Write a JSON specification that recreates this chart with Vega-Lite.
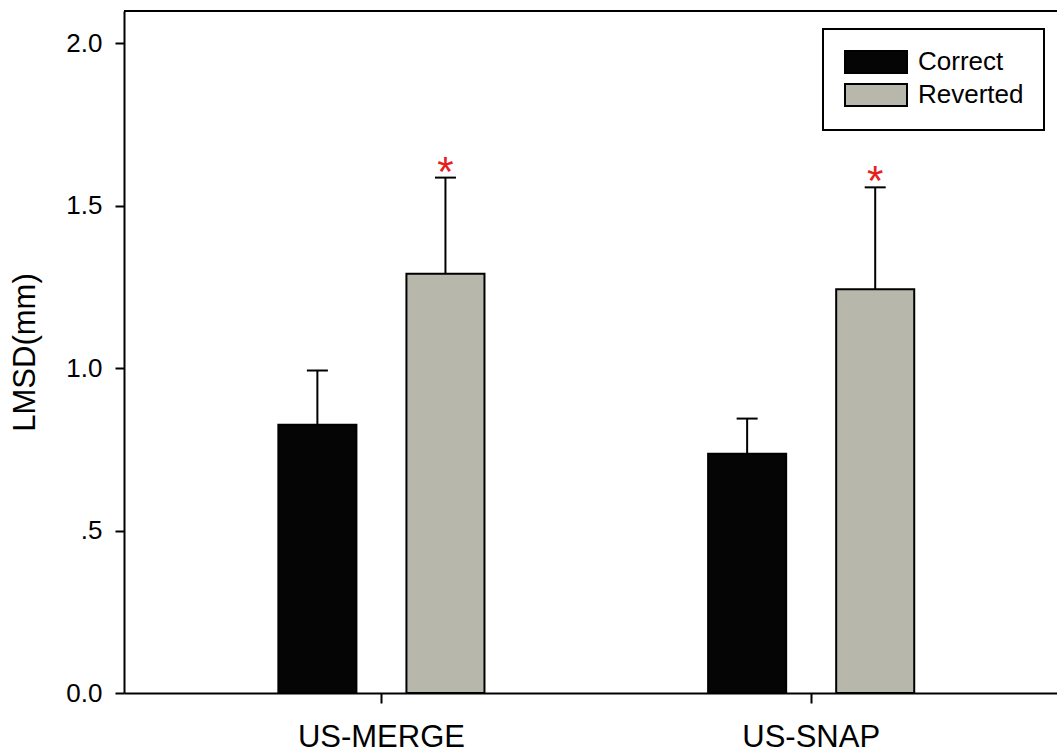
{
  "$schema": "https://vega.github.io/schema/vega-lite/v6.json",
  "autosize": "none",
  "width": 933,
  "height": 682,
  "padding": {"left": 124, "top": 11, "right": 0, "bottom": 60},
  "background": "white",
  "config": {
    "font": "Liberation Sans",
    "view": {"stroke": null},
    "axis": {"labelColor": "black", "titleColor": "black", "domainColor": "black", "tickColor": "black", "domainWidth": 2, "tickWidth": 2, "grid": false}
  },
  "datasets": {
    "bars": [
      {"group": "US-MERGE", "cond": "Correct", "value": 0.826, "err": 0.993, "sig": ""},
      {"group": "US-MERGE", "cond": "Reverted", "value": 1.291, "err": 1.587, "sig": "*"},
      {"group": "US-SNAP", "cond": "Correct", "value": 0.737, "err": 0.845, "sig": ""},
      {"group": "US-SNAP", "cond": "Reverted", "value": 1.243, "err": 1.557, "sig": "*"}
    ],
    "frame": [{"top": 2.1}]
  },
  "layer": [
    {
      "data": {"name": "bars"},
      "mark": {"type": "bar", "stroke": "black", "strokeWidth": 2},
      "encoding": {
        "x": {
          "field": "group", "type": "nominal",
          "scale": {"paddingInner": 0.5204, "paddingOuter": 0.3457, "align": 0.5195},
          "axis": {"title": null, "labelAngle": 0, "labelFontSize": 31, "tickSize": 10, "labelPadding": 19}
        },
        "xOffset": {
          "field": "cond", "type": "nominal",
          "scale": {"paddingInner": 0.3906, "paddingOuter": 0}
        },
        "y": {
          "field": "value", "type": "quantitative",
          "scale": {"domain": [0, 2.1], "nice": false, "zero": true},
          "axis": {
            "title": "LMSD(mm)", "titleFontSize": 31, "titleFontWeight": "normal", "titlePadding": 24,
            "values": [0, 0.5, 1, 1.5, 2],
            "labelExpr": "datum.value == 0.5 ? '.5' : format(datum.value, '.1f')",
            "labelFontSize": 26, "tickSize": 9, "labelPadding": 13
          }
        },
        "fill": {
          "field": "cond", "type": "nominal",
          "scale": {"domain": ["Correct", "Reverted"], "range": ["#050505", "#b7b8ab"]},
          "legend": {
            "title": null, "orient": "none", "legendX": 699, "legendY": 18,
            "strokeColor": "black", "padding": 20,
            "symbolType": "M-1,-1H4.636V1H-1Z", "symbolSize": 484,
            "symbolStrokeColor": "black", "symbolStrokeWidth": 2, "symbolOpacity": 1,
            "labelFontSize": 26, "labelColor": "black", "labelOffset": 49, "rowPadding": 3,
            "fillColor": "white",
            "encode": {"legend": {"update": {"strokeWidth": {"value": 2}}}}
          }
        }
      }
    },
    {
      "data": {"name": "bars"},
      "mark": {"type": "rule", "stroke": "black", "strokeWidth": 2},
      "encoding": {
        "x": {"field": "group", "type": "nominal"},
        "xOffset": {"field": "cond", "type": "nominal"},
        "y": {"field": "value", "type": "quantitative"},
        "y2": {"field": "err"}
      }
    },
    {
      "data": {"name": "bars"},
      "mark": {"type": "tick", "color": "black", "thickness": 2, "size": 21, "orient": "horizontal", "opacity": 1},
      "encoding": {
        "x": {"field": "group", "type": "nominal"},
        "xOffset": {"field": "cond", "type": "nominal"},
        "y": {"field": "err", "type": "quantitative"}
      }
    },
    {
      "data": {"name": "bars"},
      "mark": {"type": "text", "color": "#e8201c", "fontSize": 42, "baseline": "alphabetic", "dy": 8},
      "encoding": {
        "x": {"field": "group", "type": "nominal"},
        "xOffset": {"field": "cond", "type": "nominal"},
        "y": {"field": "err", "type": "quantitative"},
        "text": {"field": "sig"}
      }
    },
    {
      "data": {"name": "frame"},
      "mark": {"type": "rule", "stroke": "black", "strokeWidth": 2},
      "encoding": {
        "y": {"field": "top", "type": "quantitative"}
      }
    }
  ]
}
